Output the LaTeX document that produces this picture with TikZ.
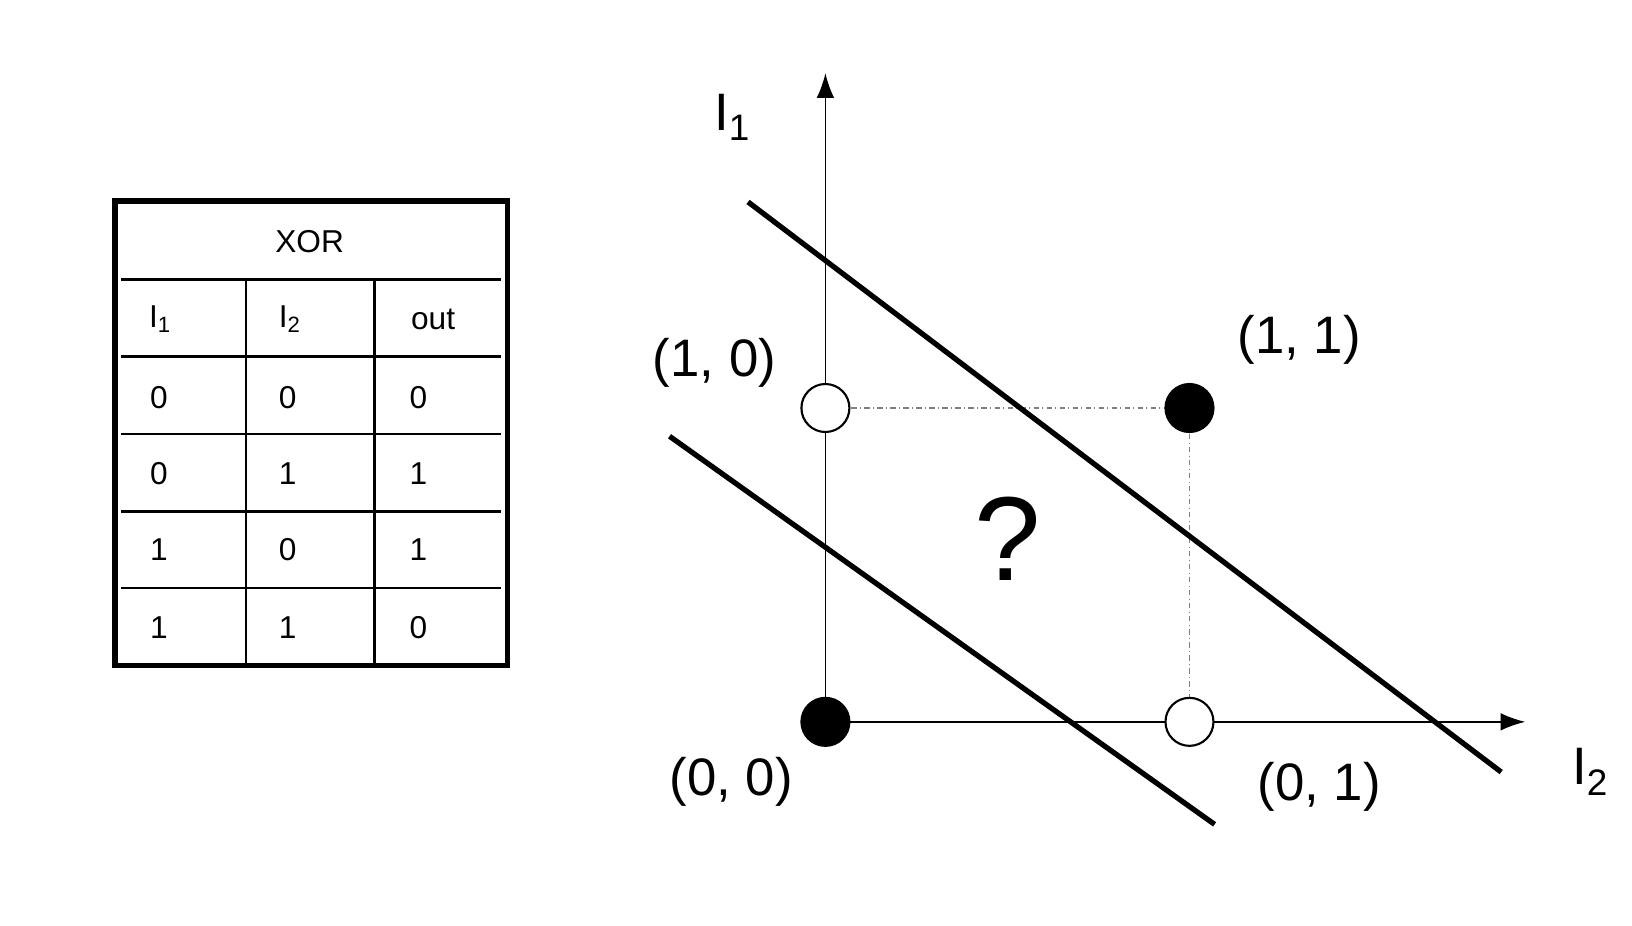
\documentclass[tikz,border=0pt]{standalone}
\usepackage{fontspec}
\setmainfont{Liberation Sans}
\usetikzlibrary{arrows.meta,positioning}
\tikzset{
  cell/.style={font=\fontsize{18}{18}\selectfont},
  lbl/.style={font=\fontsize{30}{30}\selectfont},
  pt/.style={circle,draw,line width=1.2pt,minimum size=0.96cm,inner sep=0pt},
  sep/.style={line width=3pt}
}
\begin{document}
\begin{tikzpicture}[x=0.02092cm,y=-0.02092cm]
  \useasboundingbox (0,0) rectangle (1560,885);
  %% table
  \draw[line width=3.2pt] (110,192) rectangle (485,636);
  \draw[line width=1.5pt] (116,267) -- (479,267);
  \foreach \y in {341,415,489,562} \draw[line width=1.5pt] (116,\y) -- (479,\y);
  \foreach \x in {235,358} \draw[line width=1.5pt] (\x,267) -- (\x,636);
  \node[cell] (head) at (296,231) {XOR};
  \node[cell] (ha) at (153,305) {I\textsubscript{1}};
  \node[cell] (hb) at (277,305) {I\textsubscript{2}};
  \node[cell] (hc) at (414,305) {out};
  \foreach \a/\b/\c/\y in {0/0/0/380,0/1/1/453,1/0/1/525,1/1/0/600}{
    \node[cell] at (152,\y) {\a};
    \node[cell] at (275,\y) {\b};
    \node[cell] at (400,\y) {\c};
  }
  %% axes
  \coordinate (o) at (789,690);
  \coordinate (ytop) at (789,70);
  \coordinate (xend) at (1458,690);
  \draw[-{Latex[length=14pt,width=10pt]},line width=1pt] (o) -- (ytop);
  \draw[-{Latex[length=14pt,width=10pt]},line width=1pt] (o) -- (xend);
  \node[lbl] (ione) at (700,112) {I\textsubscript{1}};
  \node[lbl] (itwo) at (1520,738) {I\textsubscript{2}};
  %% points
  \draw[gray,dash dot,line width=0.8pt] (789,390) -- (1137,390) -- (1137,690);
  \node[pt,fill=black] (p00) at (789,690) {};
  \node[pt,fill=white] (p10) at (789,390) {};
  \node[pt,fill=black] (p11) at (1137,390) {};
  \node[pt,fill=white] (p01) at (1137,690) {};
  \node[lbl] (l10) at (683,347) {(1, 0)};
  \node[lbl] (l11) at (1242,325) {(1, 1)};
  \node[lbl] (l00) at (699,747) {(0, 0)};
  \node[lbl] (l01) at (1261,752) {(0, 1)};
  %% separating lines
  \draw[sep] (715,193) -- (1435,738);
  \draw[sep] (640,417) -- (1161,788);
  \node[font=\fontsize{68}{68}\selectfont] (q) at (963,515) {?};
\end{tikzpicture}
\end{document}
